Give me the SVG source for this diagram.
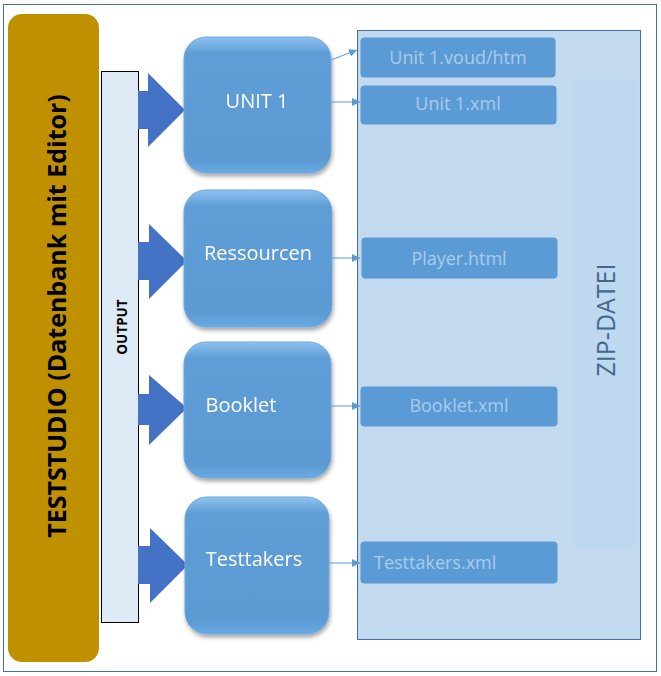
<svg xmlns="http://www.w3.org/2000/svg" width="661" height="676" viewBox="0 0 661 676">
<style>
.unit{fill:url(#ug);stroke:#6FA8DC;stroke-width:1}
.file{fill:#5B9BD5;stroke:#5A97D0;stroke-width:1}
.ft{font-family:"Open Sans","Liberation Sans",sans-serif;font-size:18px;fill:#A9CBEC}
.ut{font-family:"Open Sans","Liberation Sans",sans-serif;font-size:20px;fill:#FFFFFF}
.big{fill:#4472C4}
.con{stroke:#5B9BD5;stroke-width:1;fill:none;marker-end:url(#ah)}
</style>
<defs>
<linearGradient id="ug" x1="0" y1="0" x2="0" y2="1">
<stop offset="0" stop-color="#8EC2F0"/>
<stop offset="0.12" stop-color="#5E9DD6"/>
<stop offset="0.9" stop-color="#5B9AD3"/>
<stop offset="1" stop-color="#6AAAE4"/>
</linearGradient>
<filter id="sh" x="-10%" y="-10%" width="125%" height="125%">
<feGaussianBlur in="SourceAlpha" stdDeviation="2"/>
<feOffset dx="1" dy="3"/>
<feComponentTransfer><feFuncA type="linear" slope="0.35"/></feComponentTransfer>
<feMerge><feMergeNode/><feMergeNode in="SourceGraphic"/></feMerge>
</filter>
<marker id="ah" viewBox="0 0 10 10" refX="10" refY="5" markerWidth="8" markerHeight="8" markerUnits="userSpaceOnUse" orient="auto">
<path d="M0,0 L10,5 L0,10 z" fill="#5B9BD5"/>
</marker>
</defs>
<rect x="3.5" y="4.5" width="653" height="667" fill="#FFFFFF" stroke="#41719C" stroke-width="1"/>
<g id="teststudio">
<rect x="8" y="14" width="91" height="648" rx="14" fill="#BF9000"/>
<text transform="translate(66,316) rotate(-90)" font-family="'Open Sans','Liberation Sans',sans-serif" font-weight="bold" font-size="25" fill="#000000" text-anchor="middle">TESTSTUDIO (Datenbank mit Editor)</text>
</g>
<g id="output">
<rect x="101.5" y="71.5" width="37" height="551" fill="#DEEBF7" stroke="#000000" stroke-width="1"/>
<text transform="translate(127,327) rotate(-90)" font-family="'Open Sans','Liberation Sans',sans-serif" font-weight="bold" font-size="13.5" fill="#000000" text-anchor="middle">OUTPUT</text>
</g>
<g id="zip">
<rect x="357.5" y="30.5" width="283" height="609" fill="#C2D9EF" stroke="#41719C" stroke-width="1"/>
<rect x="574" y="78" width="62" height="470" fill="#BED8EF"/>
<text transform="translate(615,320) rotate(-90)" font-family="'Open Sans','Liberation Sans',sans-serif" font-size="25" fill="#44678B" text-anchor="middle">ZIP-DATEI</text>
</g>
<g id="arrows">
<polygon class="big" points="138,91 148,91 148,73 185,110 148,147 148,129 138,129"/>
<polygon class="big" points="138,242 149,242 149,224 187,261 149,299 149,280 138,280"/>
<polygon class="big" points="138,394 149,394 149,375 187,408 149,445 149,425 138,425"/>
<polygon class="big" points="138,546 150,546 150,528 188,565 150,603 150,584 138,584"/>
</g>
<g id="unit1" filter="url(#sh)">
<rect class="unit" x="184" y="37" width="147" height="136" rx="22"/>
<text class="ut" x="257" y="108" text-anchor="middle">UNIT 1</text>
</g>
<g id="ressourcen" filter="url(#sh)">
<rect class="unit" x="184" y="190" width="148" height="137" rx="22"/>
<text class="ut" x="258" y="260" text-anchor="middle">Ressourcen</text>
</g>
<g id="booklet" filter="url(#sh)">
<rect class="unit" x="184" y="342" width="147" height="136" rx="22"/>
<text class="ut" x="241" y="412" text-anchor="middle">Booklet</text>
</g>
<g id="testtakers" filter="url(#sh)">
<rect class="unit" x="185" y="497" width="144" height="137" rx="22"/>
<text class="ut" x="254" y="566" text-anchor="middle">Testtakers</text>
</g>
<g id="f1">
<rect class="file" x="361" y="38" width="194" height="39" rx="3"/>
<text class="ft" x="458" y="64" text-anchor="middle">Unit 1.voud/htm</text>
</g>
<g id="f2">
<rect class="file" x="361" y="86" width="195" height="38" rx="3"/>
<text class="ft" x="458" y="110" text-anchor="middle">Unit 1.xml</text>
</g>
<g id="f3">
<rect class="file" x="362" y="238" width="195" height="40" rx="3"/>
<text class="ft" x="459" y="265" text-anchor="middle">Player.html</text>
</g>
<g id="f4">
<rect class="file" x="361" y="387" width="196" height="39" rx="3"/>
<text class="ft" x="459" y="412" text-anchor="middle">Booklet.xml</text>
</g>
<g id="f5">
<rect class="file" x="361" y="542" width="196" height="41" rx="3"/>
<text class="ft" x="374" y="569" text-anchor="start">Testtakers.xml</text>
</g>
<g id="connectors">
<line class="con" x1="331" y1="60" x2="357" y2="50"/>
<line class="con" x1="331" y1="102" x2="360" y2="102"/>
<line class="con" x1="332" y1="258" x2="360" y2="258"/>
<line class="con" x1="331" y1="406" x2="360" y2="406"/>
<line class="con" x1="329" y1="563" x2="360" y2="563"/>
</g>
</svg>
